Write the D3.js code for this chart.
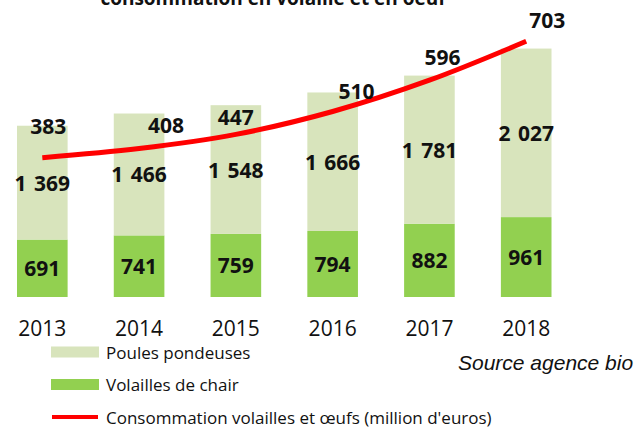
<!DOCTYPE html>
<html>
<head>
<meta charset="utf-8">
<script src="https://cdn.jsdelivr.net/npm/d3@7"></script>
<style>
  html, body { margin: 0; padding: 0; background: #fff; }
  svg { display: block; }
  .val { font-family: 'Open Sans', sans-serif; font-weight: 700; font-size: 21px; fill: #111; word-spacing: 2px; }
  .year { font-family: 'Open Sans', sans-serif; font-size: 21px; fill: #111; }
  .legend { font-family: 'Open Sans', sans-serif; font-size: 17px; fill: #111; }
</style>
</head>
<body>
<svg id="chart" width="634" height="427"></svg>
<script>
const years = ['2013', '2014', '2015', '2016', '2017', '2018'];
const chair = [691, 741, 759, 794, 882, 961];
const pondeuses = [1369, 1466, 1548, 1666, 1781, 2027];
const conso = [383, 408, 447, 510, 596, 703];

// manual label nudges for the line values (as placed in the original)
const lineLabelOffsets = [[6, -32], [27, -24], [0, -17], [24, -20], [13, -23], [21, -21]];

const colors = {
  pondeuses: '#d8e4bc',
  chair: '#92d050',
  line: '#ff0000',
};

const svg = d3.select('#chart');

const x = d3.scaleBand()
  .domain(years)
  .range([17, 551.5])
  .paddingInner(0.477)
  .paddingOuter(0);

const y = d3.scaleLinear().domain([0, 3500]).range([297, 6]);
const y2 = d3.scaleLinear().domain([0, 800]).range([297, 6]);

const rows = years.map((yr, i) => ({
  year: yr,
  chair: chair[i],
  pondeuses: pondeuses[i],
  conso: conso[i],
  off: lineLabelOffsets[i],
}));

// title, cut off at the top of the picture like in the original
svg.append('text')
  .attr('x', 273)
  .attr('y', 5)
  .attr('text-anchor', 'middle')
  .style('font-family', "'Open Sans', sans-serif")
  .style('font-weight', 700)
  .style('font-size', '19px')
  .style('fill', '#111')
  .text('consommation  en volaille  et en oeuf');

const group = svg.selectAll('g.year-group')
  .data(rows)
  .enter()
  .append('g')
  .classed('year-group', true);

group
  .append('rect')
  .attr('x', d => x(d.year))
  .attr('width', x.bandwidth())
  .attr('y', d => y(d.chair))
  .attr('height', d => y(0) - y(d.chair))
  .style('fill', colors.chair);

group
  .append('rect')
  .attr('x', d => x(d.year))
  .attr('width', x.bandwidth())
  .attr('y', d => y(d.chair + d.pondeuses))
  .attr('height', d => y(d.chair) - y(d.chair + d.pondeuses))
  .style('fill', colors.pondeuses);

const fmt = v => d3.format(',')(v).replace(',', ' ');

group
  .append('text')
  .classed('val', true)
  .attr('x', d => x(d.year) + x.bandwidth() / 2)
  .attr('y', d => (y(0) + y(d.chair)) / 2)
  .attr('text-anchor', 'middle')
  .attr('dominant-baseline', 'central')
  .text(d => fmt(d.chair));

group
  .append('text')
  .classed('val', true)
  .attr('x', d => x(d.year) + x.bandwidth() / 2)
  .attr('y', d => (y(d.chair) + y(d.chair + d.pondeuses)) / 2)
  .attr('text-anchor', 'middle')
  .attr('dominant-baseline', 'central')
  .text(d => fmt(d.pondeuses));

// x axis labels, no line or ticks
const xAxis = svg.append('g')
  .attr('transform', 'translate(0,304)')
  .call(d3.axisBottom(x).tickSize(0).tickPadding(0));
xAxis.select('.domain').remove();
xAxis.selectAll('text')
  .attr('class', 'year')
  .attr('dy', null)
  .attr('y', 32)
  .style('font-family', "'Open Sans', sans-serif")
  .style('font-size', '21px');

// consumption line
const line = d3.line()
  .x(d => x(d.year) + x.bandwidth() / 2)
  .y(d => y2(d.conso))
  .curve(d3.curveCatmullRom.alpha(0.5));

svg.append('path')
  .datum(rows)
  .attr('d', line)
  .style('fill', 'none')
  .style('stroke', colors.line)
  .style('stroke-width', 5);

svg.selectAll('text.line-val')
  .data(rows)
  .enter()
  .append('text')
  .attr('class', 'val line-val')
  .attr('x', d => x(d.year) + x.bandwidth() / 2 + d.off[0])
  .attr('y', d => y2(d.conso) + d.off[1])
  .attr('text-anchor', 'middle')
  .attr('dominant-baseline', 'central')
  .text(d => d.conso);

// legend
const legendItems = [
  { label: 'Poules pondeuses', type: 'rect', color: colors.pondeuses },
  { label: 'Volailles de chair', type: 'rect', color: colors.chair },
  { label: 'Consommation volailles et œufs (million d\'euros)', type: 'line', color: colors.line },
];

const legend = svg.selectAll('g.legend-item')
  .data(legendItems)
  .enter()
  .append('g')
  .classed('legend-item', true)
  .attr('transform', (d, i) => `translate(51,${352 + i * 32.5})`);

legend.filter(d => d.type === 'rect')
  .append('rect')
  .attr('x', 0)
  .attr('y', -5.5)
  .attr('width', 48)
  .attr('height', 11)
  .style('fill', d => d.color);

legend.filter(d => d.type === 'line')
  .append('line')
  .attr('x1', 1)
  .attr('x2', 47)
  .attr('y1', 0)
  .attr('y2', 0)
  .style('stroke', d => d.color)
  .style('stroke-width', 4);

legend
  .append('text')
  .classed('legend', true)
  .attr('x', 55)
  .attr('y', 0)
  .attr('dominant-baseline', 'central')
  .text(d => d.label);

svg.append('text')
  .attr('x', 458)
  .attr('y', 362)
  .attr('dominant-baseline', 'central')
  .style('font-family', "'Liberation Sans', Arial, sans-serif")
  .style('font-style', 'italic')
  .style('font-size', '21px')
  .style('fill', '#111')
  .text('Source agence bio');
</script>
</body>
</html>
